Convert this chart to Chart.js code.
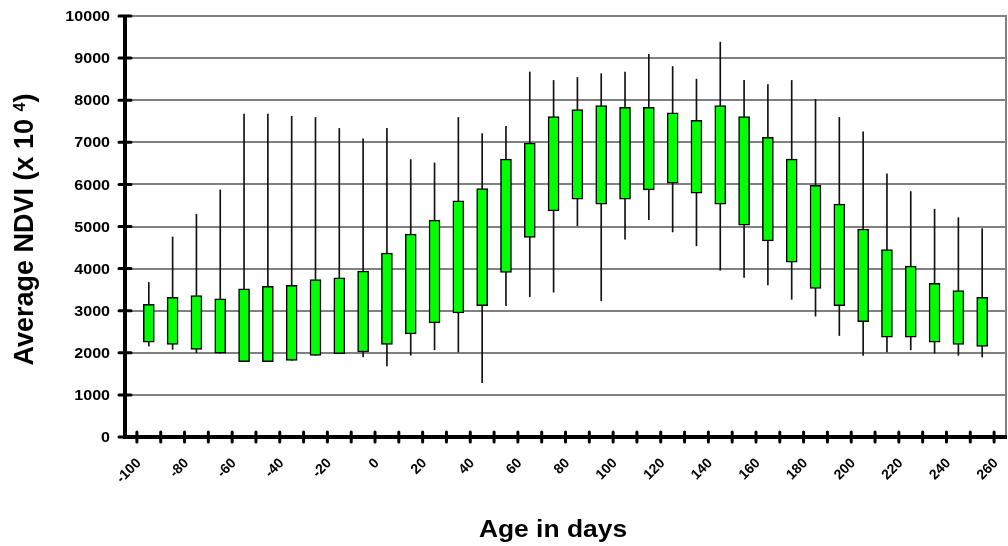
<!DOCTYPE html>
<html>
<head>
<meta charset="utf-8">
<script src="https://cdn.jsdelivr.net/npm/chart.js@4.4.1/dist/chart.umd.min.js"></script>
<style>
  html, body { margin: 0; padding: 0; background: #fff; }
  #wrap { width: 1008px; height: 546px; }
</style>
</head>
<body>
<div id="wrap"><canvas id="c" width="1008" height="546"></canvas></div>
<script>
// ---- data ----
const days       = [-95,-85,-75,-65,-55,-45,-35,-25,-15,-5,5,15,25,35,45,55,65,75,85,95,105,115,125,135,145,155,165,175,185,195,205,215,225,235,245,255];
const boxBottom  = [2250,2200,2080,1990,1790,1790,1820,1940,1980,2020,2200,2450,2710,2950,3120,3910,4740,5370,5650,5530,5650,5870,6030,5790,5530,5030,4660,4150,3530,3120,2740,2370,2370,2250,2200,2150];
const boxTop     = [3150,3320,3360,3280,3520,3580,3600,3740,3780,3940,4370,4820,5150,5610,5900,6600,6980,7610,7780,7870,7830,7830,7700,7520,7870,7610,7120,6600,5980,5530,4940,4450,4060,3650,3480,3320];
const lowValues  = [2160,2080,2000,1990,1790,1790,1820,1940,1980,1900,1690,1940,2070,2020,1290,3120,3330,3440,5020,3240,4700,5160,4870,4540,3960,3790,3610,3270,2870,2410,1940,2020,2070,1990,1940,1900];
const highValues = [3670,4750,5290,5870,7670,7670,7620,7590,7330,7080,7330,6590,6510,7590,7210,7380,8670,8470,8540,8630,8670,9090,8800,8500,9380,8470,8370,8470,8020,7590,7250,6250,5830,5410,5210,4950];
const xTickLabels = [-100,-80,-60,-40,-20,0,20,40,60,80,100,120,140,160,180,200,220,240,260];
const xTitle = 'Age in days';
const yTitleMain = 'Average NDVI (x 10 ';
const yTitleSup = '4';
const yTitleEnd = ')';

const FONT = '"Liberation Sans", Arial, Helvetica, sans-serif';

const boxData = days.map((d, i) => ({ x: d, y: [boxBottom[i], boxTop[i]] }));
const whiskerData = days.map((d, i) => ({ x: d, y: [lowValues[i], highValues[i]] }));

const decorPlugin = {
  id: 'decor',
  afterDraw(chart) {
    const ctx = chart.ctx;
    const xs = chart.scales.x, ys = chart.scales.y;
    const a = chart.chartArea;
    ctx.save();
    // right border
    ctx.strokeStyle = '#808080';
    ctx.lineWidth = 2;
    ctx.beginPath();
    ctx.moveTo(a.right, a.top - 1);
    ctx.lineTo(a.right, a.bottom);
    ctx.stroke();

    // axes lines
    ctx.strokeStyle = '#000';
    ctx.lineWidth = 4;
    ctx.beginPath();
    ctx.moveTo(a.left, a.top - 1);
    ctx.lineTo(a.left, a.bottom + 2);
    ctx.moveTo(a.left - 2, a.bottom);
    ctx.lineTo(a.right + 1, a.bottom);
    ctx.stroke();

    // tick marks (crossing)
    ctx.lineWidth = 3;
    ctx.lineCap = 'round';
    ctx.beginPath();
    ys.ticks.forEach(t => {
      const y = ys.getPixelForValue(t.value);
      ctx.moveTo(a.left - 6, y);
      ctx.lineTo(a.left + 6, y);
    });
    xs.ticks.forEach(t => {
      const x = xs.getPixelForValue(t.value);
      ctx.moveTo(x, a.bottom - 5);
      ctx.lineTo(x, a.bottom + 5);
    });
    ctx.stroke();

    ctx.fillStyle = '#000';
    // y tick labels
    ctx.font = 'bold 15px ' + FONT;
    ctx.textAlign = 'right';
    ctx.textBaseline = 'middle';
    ys.ticks.forEach(t => {
      const y = ys.getPixelForValue(t.value);
      ctx.save();
      ctx.translate(110, y + 1);
      ctx.scale(1.07, 1);
      ctx.fillText(String(t.value), 0, 0);
      ctx.restore();
    });

    // x tick labels, rotated 45 deg
    ctx.font = 'bold 14px ' + FONT;
    ctx.textAlign = 'right';
    ctx.textBaseline = 'middle';
    const W = chart.width;
    xTickLabels.forEach(v => {
      let ax = xs.getPixelForValue(v) + 2;
      let ay = a.bottom + 24;
      const over = ax + 4 - W;
      if (over > 0) { ax -= over + 2; ay += over + 2; }
      ctx.save();
      ctx.translate(ax, ay);
      ctx.rotate(-Math.PI / 4);
      ctx.fillText(String(v), 0, 0);
      ctx.restore();
    });

    // x title
    ctx.font = 'bold 24px ' + FONT;
    ctx.textAlign = 'center';
    ctx.textBaseline = 'alphabetic';
    ctx.save();
    ctx.translate(553, 537);
    ctx.scale(1.1, 1);
    ctx.fillText(xTitle, 0, 0);
    ctx.restore();

    // y title (rotated)
    const mainF = 'bold 27px ' + FONT;
    const supF = 'bold 16px ' + FONT;
    ctx.font = mainF;
    const w1 = ctx.measureText(yTitleMain).width;
    const w3 = ctx.measureText(yTitleEnd).width;
    ctx.font = supF;
    const w2 = ctx.measureText(yTitleSup).width;
    const total = w1 + w2 + w3;
    const cy = (a.top + a.bottom) / 2 + 3;
    ctx.save();
    ctx.translate(33, cy);
    ctx.rotate(-Math.PI / 2);
    ctx.textAlign = 'left';
    ctx.textBaseline = 'alphabetic';
    let pos = -total / 2;
    ctx.font = mainF;
    ctx.fillText(yTitleMain, pos, 0);
    pos += w1;
    ctx.font = supF;
    ctx.fillText(yTitleSup, pos, -8);
    pos += w2;
    ctx.font = mainF;
    ctx.fillText(yTitleEnd, pos, 0);
    ctx.restore();

    ctx.restore();
  }
};

new Chart(document.getElementById('c'), {
  type: 'bar',
  data: {
    datasets: [
      {
        label: 'range',
        data: whiskerData,
        backgroundColor: '#111',
        borderWidth: 0,
        barThickness: 1,
        grouped: false,
        order: 2
      },
      {
        label: 'box',
        data: boxData,
        backgroundColor: '#00ff00',
        borderColor: '#000',
        borderWidth: 1.5,
        borderSkipped: false,
        barThickness: 11,
        grouped: false,
        order: 1
      }
    ]
  },
  options: {
    responsive: false,
    animation: false,
    devicePixelRatio: 1,
    layout: { padding: { top: 16, right: 2, left: 0, bottom: 0 } },
    plugins: { legend: { display: false }, tooltip: { enabled: false }, title: { display: false } },
    scales: {
      x: {
        type: 'linear',
        min: -100, max: 260,
        ticks: { stepSize: 10, display: false },
        grid: { display: false, drawTicks: false },
        border: { display: false },
        afterFit(s) { s.height = 109; }
      },
      y: {
        min: 0, max: 10000,
        ticks: { stepSize: 1000, display: false },
        grid: { color: '#808080', lineWidth: 2, drawTicks: false },
        border: { display: false },
        afterFit(s) { s.width = 125; }
      }
    }
  },
  plugins: [decorPlugin]
});
</script>
</body>
</html>
